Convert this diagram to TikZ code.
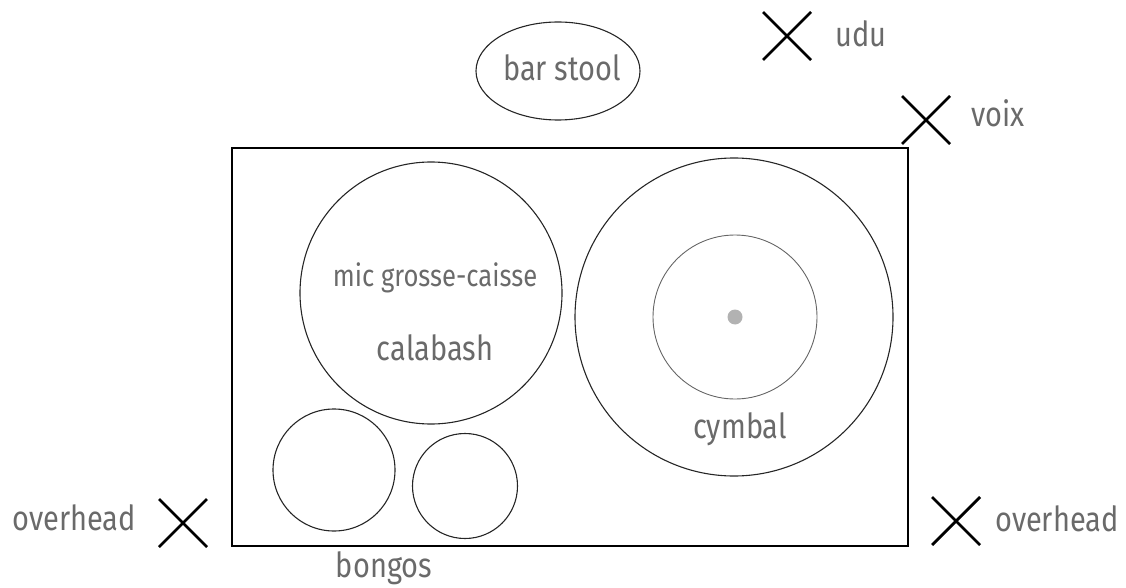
\documentclass[tikz,border=0pt]{standalone}
\usepackage{fontspec}
\setmainfont[FakeStretch=0.84]{Fira Sans}
\usetikzlibrary{shapes.geometric,calc}
\definecolor{txt}{HTML}{6A6A6A}
\tikzset{
  lbl/.style={text=txt, inner sep=0pt, anchor=base, font=\fontsize{34.5}{40}\selectfont},
  small/.style={text=txt, inner sep=0pt, anchor=base, font=\fontsize{30.5}{36}\selectfont},
  drum/.style={circle, draw=black!85, line width=1.1pt, inner sep=0pt},
  xmark/.style={line width=2.8pt, black},
}
\newcommand{\xmarkat}[1]{\draw[xmark] ($(#1)+(-24,-24)$) -- ($(#1)+(24,24)$) ($(#1)+(-24,24)$) -- ($(#1)+(24,-24)$);}
\begin{document}
\begin{tikzpicture}[x=1pt,y=-1pt]
\useasboundingbox (0,0) rectangle (1126,588);
% stage rectangle
\node[draw=black, line width=2pt, minimum width=676pt, minimum height=398pt, inner sep=0pt] (stage) at (569.5,347) {};
% bar stool
\node[ellipse, draw=black!85, line width=1.1pt, minimum width=164pt, minimum height=98pt, inner sep=0pt] (stool) at (558,71) {};
\node[lbl] (stooltxt) at (562,81) {bar stool};
% calabash
\node[drum, minimum size=262pt] (calabash) at (431,293) {};
\node[small] (mic) at (435,286) {mic grosse-caisse};
\node[lbl] (calatxt) at (435,360) {calabash};
% cymbal
\node[drum, minimum size=318pt] (cymbal) at (734,317) {};
\node[circle, draw=black!60, line width=0.9pt, minimum size=164pt, inner sep=0pt] (cymin) at (735,317) {};
\node[circle, fill=black!30, minimum size=15pt, inner sep=0pt] (cymdot) at (735,317) {};
\node[lbl] (cymtxt) at (740,438) {cymbal};
% bongos
\node[drum, minimum size=122pt] (bongo1) at (334,470) {};
\node[drum, minimum size=105pt] (bongo2) at (465,486) {};
\node[lbl] (bongotxt) at (384,577) {bongos};
% mics
\coordinate (udu) at (787,36);
\coordinate (voix) at (926,120);
\coordinate (ohl) at (183,523);
\coordinate (ohr) at (956,521);
\xmarkat{udu}
\xmarkat{voix}
\xmarkat{ohl}
\xmarkat{ohr}
\node[lbl, anchor=base west] (udutxt) at (835,47) {udu};
\node[lbl, anchor=base west] (voixtxt) at (971,127) {voix};
\node[lbl, anchor=base east] (ohltxt) at (136,530) {overhead};
\node[lbl, anchor=base west] (ohrtxt) at (995,531) {overhead};
\end{tikzpicture}
\end{document}
